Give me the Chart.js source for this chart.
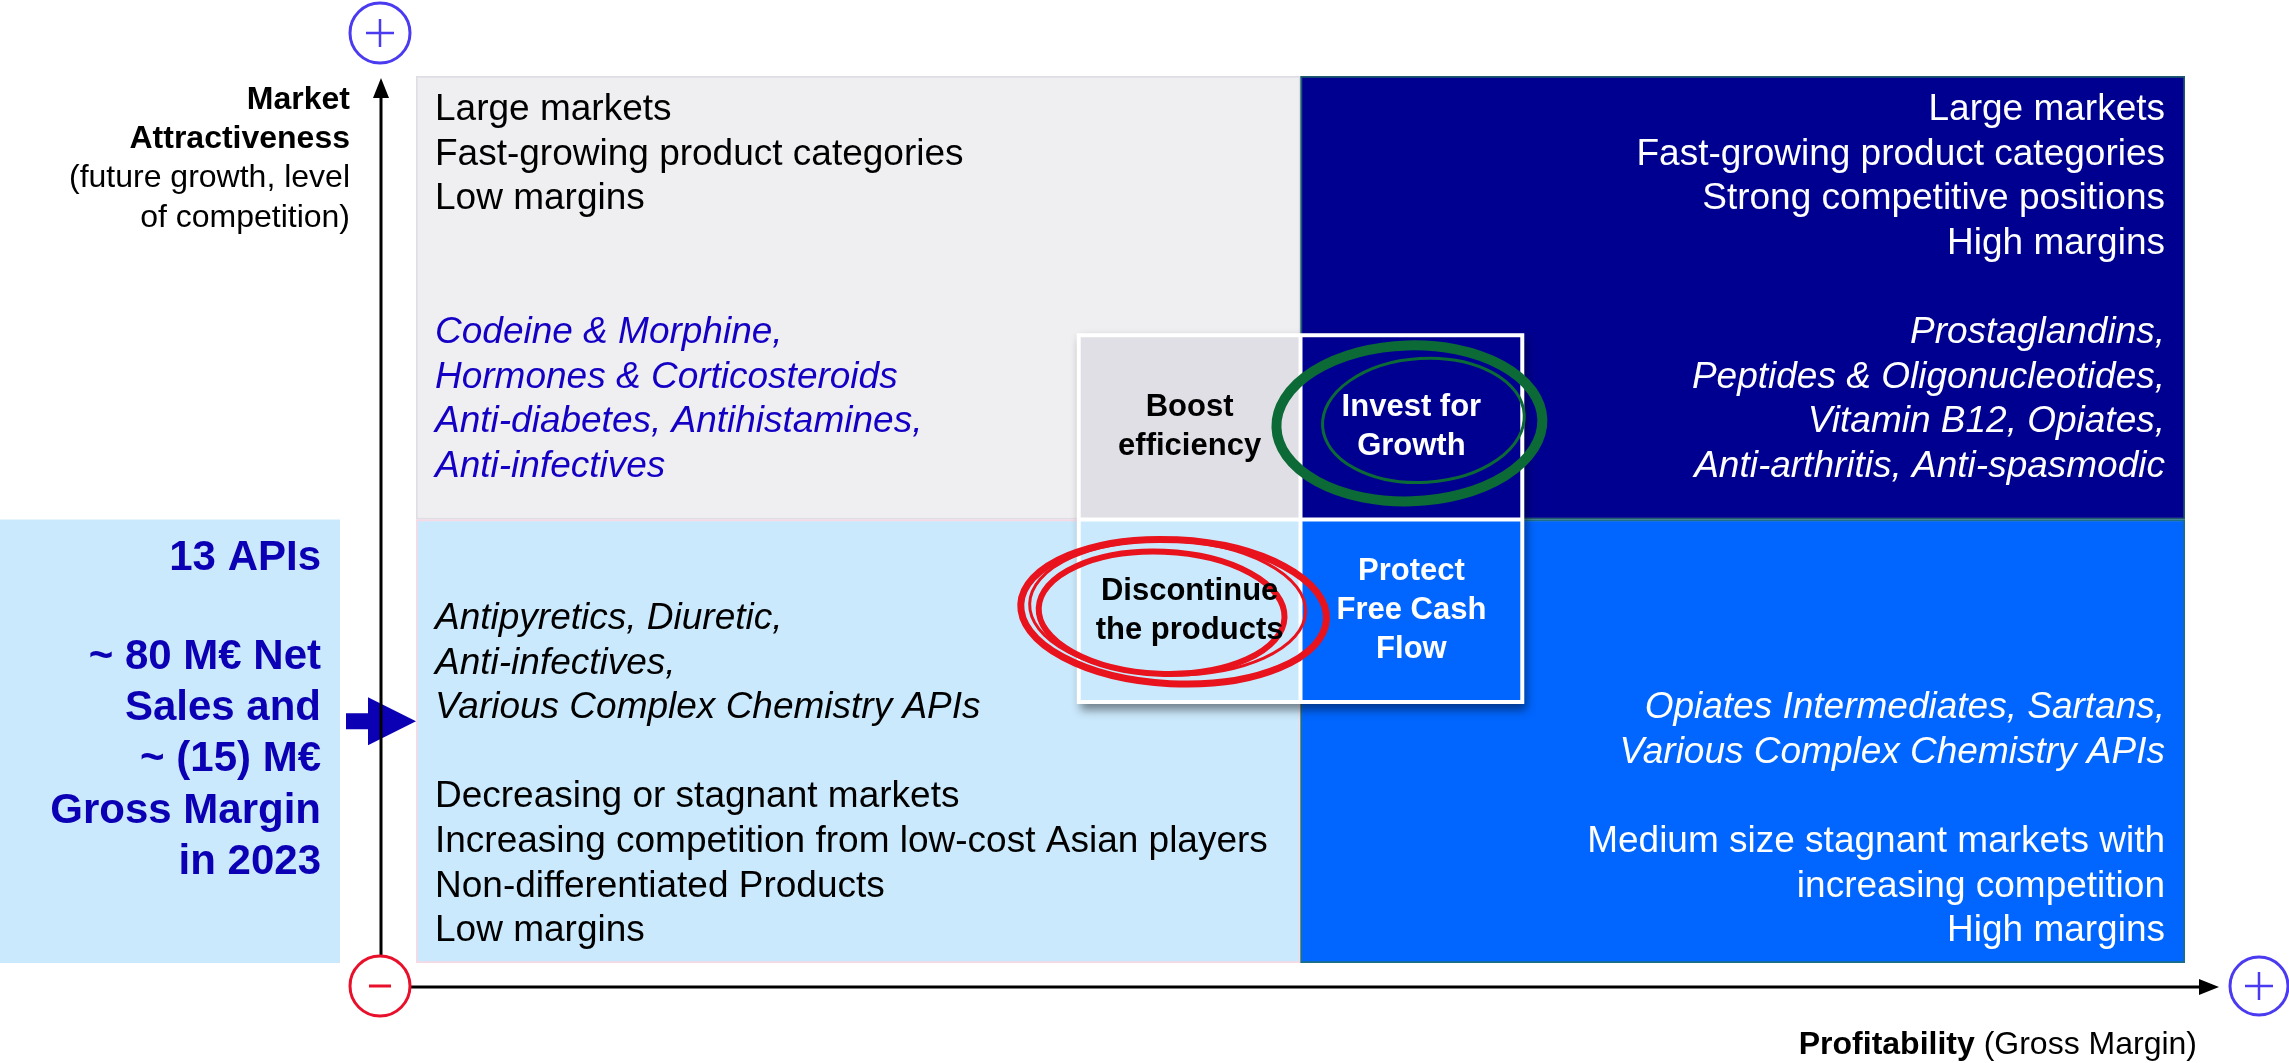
<!DOCTYPE html>
<html lang="en">
<head>
<meta charset="UTF-8">
<title>API Portfolio Matrix</title>
<style>
  * { margin: 0; padding: 0; box-sizing: border-box; }
  body { background: #ffffff; width: 2289px; height: 1063px; overflow: hidden; }
  #chart-container { position: relative; width: 2289px; height: 1063px; }
</style>
</head>
<body>
<div id="chart-container">
  <canvas id="myChart" width="2289" height="1063"></canvas>
</div>
<script src="https://cdn.jsdelivr.net/npm/chart.js"></script>
<script>
// --- data ---
const profitability = ['Low', 'High'];             // x buckets (Gross Margin)
const attractiveness = ['Low', 'High'];            // stacked rows (Market Attractiveness)
const cellSpan = [1, 1];                           // each cell is one unit of each axis

// quadrant order: high/low-profit, high/high-profit, low/low-profit, low/high-profit
const quadrantCol = [0, 1, 0, 1];
const quadrantRow = [1, 1, 0, 0];

const strategies = [
  ['Boost', 'efficiency'],
  ['Invest for', 'Growth'],
  ['Discontinue', 'the products'],
  ['Protect', 'Free Cash', 'Flow']
];
const traits = [
  ['Large markets', 'Fast-growing product categories', 'Low margins'],
  ['Large markets', 'Fast-growing product categories', 'Strong competitive positions', 'High margins'],
  ['Decreasing or stagnant markets', 'Increasing competition from low-cost Asian players', 'Non-differentiated Products', 'Low margins'],
  ['Medium size stagnant markets with', 'increasing competition', 'High margins']
];
const apiFamilies = [
  ['Codeine & Morphine,', 'Hormones & Corticosteroids', 'Anti-diabetes, Antihistamines,', 'Anti-infectives'],
  ['Prostaglandins,', 'Peptides & Oligonucleotides,', 'Vitamin B12, Opiates,', 'Anti-arthritis, Anti-spasmodic'],
  ['Antipyretics, Diuretic,', 'Anti-infectives,', 'Various Complex Chemistry APIs'],
  ['Opiates Intermediates, Sartans,', 'Various Complex Chemistry APIs']
];
const summaryLines = ['13 APIs', '', '~ 80 M€ Net', 'Sales and', '~ (15) M€', 'Gross Margin', 'in 2023'];
const yTitleBold = ['Market', 'Attractiveness'];
const yTitleNormal = ['(future growth, level', 'of competition)'];
const xTitle = ['Profitability', ' (Gross Margin)'];

// --- styles ---
const FONT = '"Liberation Sans", Arial, Helvetica, sans-serif';
const rowFill = [['#cbe9fc', '#0066ff'], ['#efeff2', '#000090']];
const rowBorder = [['#f6d9e4', '#1b6f86'], ['#dedee4', '#1e5a6e']];
const traitColor = ['#000000', '#ffffff', '#000000', '#ffffff'];
const familyColor = ['#1400c4', '#ffffff', '#000000', '#ffffff'];
const cellFill = ['#dfdfe5', '#000090', '#cbe9fc', '#0066ff'];
const labelColor = ['#000000', '#ffffff', '#000000', '#ffffff'];
const darkBlue = '#0c00b4';

function font(size, bold, italic) {
  return (italic ? 'italic ' : '') + (bold ? 'bold ' : '') + size + 'px ' + FONT;
}

function circle(ctx, cx, cy, r, color) {
  ctx.beginPath();
  ctx.arc(cx, cy, r, 0, Math.PI * 2);
  ctx.strokeStyle = color;
  ctx.lineWidth = 3;
  ctx.stroke();
}

function line(ctx, x1, y1, x2, y2, color, w) {
  ctx.beginPath();
  ctx.moveTo(x1, y1);
  ctx.lineTo(x2, y2);
  ctx.strokeStyle = color;
  ctx.lineWidth = w;
  ctx.stroke();
}

// draws everything around and on top of the four quadrant bars
const matrixDecor = {
  id: 'matrixDecor',
  afterDraw(chart) {
    const ctx = chart.ctx;
    const xs = chart.scales.x, ys = chart.scales.y;
    const px = v => xs.getPixelForValue(v - 0.5);   // 0..2 across the two buckets
    const py = v => ys.getPixelForValue(v);
    const lh = 44.6;
    ctx.save();
    ctx.textBaseline = 'middle';

    // quadrant texts
    for (let q = 0; q < 4; q++) {
      const left = quadrantCol[q] === 0;
      const tx = left ? px(0) + 19 : px(2) - 20;
      ctx.textAlign = left ? 'left' : 'right';
      let tY, fY;
      if (quadrantRow[q] === 1) {
        tY = traits[q].map((_, i) => py(2) + 34 + i * lh);
        fY = apiFamilies[q].map((_, i) => py(2) + 34 + (5 + i) * lh);
      } else {
        const n = traits[q].length, m = apiFamilies[q].length;
        tY = traits[q].map((_, i) => py(0) - 32 - (n - 1 - i) * lh);
        fY = apiFamilies[q].map((_, i) => tY[0] - 2 * lh - (m - 1 - i) * lh);
      }
      ctx.font = font(37, false, false);
      ctx.fillStyle = traitColor[q];
      traits[q].forEach((t, i) => ctx.fillText(t, tx, tY[i]));
      ctx.font = font(37, false, true);
      ctx.fillStyle = familyColor[q];
      apiFamilies[q].forEach((t, i) => ctx.fillText(t, tx, fY[i]));
    }

    // summary panel + arrow
    const panelR = px(0) - 76;
    ctx.fillStyle = '#cbe9fc';
    ctx.fillRect(0, py(1), panelR, py(0) - py(1));
    ctx.fillStyle = darkBlue;
    ctx.font = font(42, true, false);
    ctx.textAlign = 'right';
    summaryLines.forEach((t, i) => {
      const y = i === 0 ? py(1) + 39 : py(1) + 35 + i * 51.3;
      ctx.fillText(t, px(0) - 95, y);
    });
    const ay = py(0.545);
    ctx.beginPath();
    ctx.moveTo(panelR + 6, ay - 8);
    ctx.lineTo(panelR + 28, ay - 8);
    ctx.lineTo(panelR + 28, ay - 24);
    ctx.lineTo(px(0), ay);
    ctx.lineTo(panelR + 28, ay + 24);
    ctx.lineTo(panelR + 28, ay + 8);
    ctx.lineTo(panelR + 6, ay + 8);
    ctx.closePath();
    ctx.fill();

    // axes
    const axX = px(0) - 35, axY = py(0) + 24;
    line(ctx, axX, axY - 32, axX, py(2) + 18, '#000', 3);
    ctx.fillStyle = '#000';
    ctx.beginPath();
    ctx.moveTo(axX, py(2) + 2);
    ctx.lineTo(axX - 8, py(2) + 22);
    ctx.lineTo(axX + 8, py(2) + 22);
    ctx.closePath();
    ctx.fill();
    line(ctx, axX + 30, axY, px(2) + 16, axY, '#000', 3);
    ctx.beginPath();
    ctx.moveTo(px(2) + 34, axY);
    ctx.lineTo(px(2) + 14, axY - 8);
    ctx.lineTo(px(2) + 14, axY + 8);
    ctx.closePath();
    ctx.fill();

    // +/- markers
    const violet = '#4a3af0';
    circle(ctx, axX - 1, 33, 30, violet);
    line(ctx, axX - 15, 33, axX + 13, 33, violet, 2.5);
    line(ctx, axX - 1, 19, axX - 1, 47, violet, 2.5);
    circle(ctx, axX - 1, axY - 1, 30, '#e8102a');
    line(ctx, axX - 12, axY - 1, axX + 10, axY - 1, '#e8102a', 3);
    const rx = px(2) + 74;
    circle(ctx, rx, axY - 1, 29, violet);
    line(ctx, rx - 14, axY - 1, rx + 14, axY - 1, violet, 2.5);
    line(ctx, rx, axY - 15, rx, axY + 13, violet, 2.5);

    // axis titles
    ctx.fillStyle = '#000';
    ctx.textAlign = 'right';
    ctx.font = font(32, true, false);
    yTitleBold.forEach((t, i) => ctx.fillText(t, px(0) - 66, 100 + i * 39.3));
    ctx.font = font(32, false, false);
    yTitleNormal.forEach((t, i) => ctx.fillText(t, px(0) - 66, 100 + (i + 2) * 39.3));
    const xRight = px(2) + 12;
    ctx.fillText(xTitle[1], xRight, 1045);
    const w2 = ctx.measureText(xTitle[1]).width;
    ctx.font = font(32, true, false);
    ctx.fillText(xTitle[0], xRight - w2, 1045);

    // centre strategy matrix
    const L = px(0.747), R = px(1.253), T = py(1.42), B = py(0.584);
    const mx = px(1), my = py(1);
    ctx.save();
    ctx.shadowColor = 'rgba(0,0,0,0.45)';
    ctx.shadowBlur = 9;
    ctx.shadowOffsetX = 3;
    ctx.shadowOffsetY = 6;
    ctx.fillStyle = '#ffffff';
    ctx.fillRect(L, T, R - L, B - T);
    ctx.restore();
    const cells = [
      [L + 4, T + 4, mx - 2, my - 2],
      [mx + 2, T + 4, R - 4, my - 2],
      [L + 4, my + 2, mx - 2, B - 4],
      [mx + 2, my + 2, R - 4, B - 4]
    ];
    cells.forEach((c, q) => {
      ctx.fillStyle = cellFill[q];
      ctx.fillRect(c[0], c[1], c[2] - c[0], c[3] - c[1]);
    });

    // hand-drawn circles round the two highlighted strategies
    const cTR = [(cells[1][0] + cells[1][2]) / 2, (cells[1][1] + cells[1][3]) / 2];
    const cBL = [(cells[2][0] + cells[2][2]) / 2, (cells[2][1] + cells[2][3]) / 2];
    const ring = (cx, cy, rX, rY, rot, color, w) => {
      ctx.beginPath();
      ctx.ellipse(cx, cy, rX, rY, rot, 0, Math.PI * 2);
      ctx.strokeStyle = color;
      ctx.lineWidth = w;
      ctx.stroke();
    };
    const green = '#0c6a36';
    ring(cTR[0] - 2, cTR[1] - 4, 133, 78, -0.03, green, 10);
    ring(cTR[0] + 12, cTR[1] - 7, 101, 62, -0.06, green, 3);
    const red = '#e8131d';
    ring(cBL[0] - 16, cBL[1] + 1, 153, 72, 0.05, red, 7);
    ring(cBL[0] - 28, cBL[1] + 2, 123, 61, 0.04, red, 6);
    ring(cBL[0] - 22, cBL[1] - 3, 138, 67, 0.03, red, 3);

    ctx.font = font(31, true, false);
    ctx.textAlign = 'center';
    cells.forEach((c, q) => {
      ctx.fillStyle = labelColor[q];
      const n = strategies[q].length;
      const cy = (c[1] + c[3]) / 2;
      strategies[q].forEach((t, i) => ctx.fillText(t, (c[0] + c[2]) / 2, cy + (i - (n - 1) / 2) * 39));
    });
    ctx.restore();
  }
};

const ctx = document.getElementById('myChart').getContext('2d');
const myChart = new Chart(ctx, {
  type: 'bar',
  data: {
    labels: profitability,
    datasets: attractiveness.map((row, r) => ({
      label: row + ' attractiveness',
      data: cellSpan,
      backgroundColor: rowFill[r],
      borderColor: rowBorder[r],
      borderWidth: 2,
      borderSkipped: false,
      barPercentage: 1,
      categoryPercentage: 1
    }))
  },
  options: {
    responsive: false,
    animation: false,
    devicePixelRatio: 1,
    layout: { padding: { left: 416, right: 104, top: 76, bottom: 100 } },
    scales: {
      x: { stacked: true, display: false },
      y: { stacked: true, display: false, min: 0, max: 2 }
    },
    plugins: { legend: { display: false }, tooltip: { enabled: false } }
  },
  plugins: [matrixDecor]
});
</script>
</body>
</html>
